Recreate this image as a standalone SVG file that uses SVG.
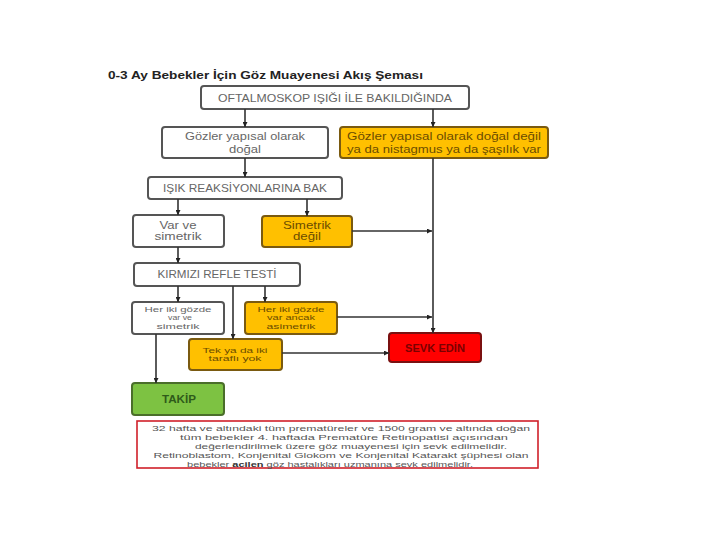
<svg xmlns="http://www.w3.org/2000/svg" width="720" height="540" viewBox="0 0 720 540">
<defs>
<marker id="ah" viewBox="0 0 10 10" refX="10" refY="5" markerWidth="5" markerHeight="5" orient="auto" markerUnits="userSpaceOnUse">
<path d="M0,0 L10,5 L0,10 z" fill="#222"/>
</marker>
<style>
.t{font-family:"Liberation Sans","Noto Sans",Arial,sans-serif;text-anchor:middle}
.w rect{fill:#fff;stroke:#555;stroke-width:2}
.o rect{fill:#FFC000;stroke:#7a5a10;stroke-width:2}
.w text{fill:#666;font-size:10.5px}
.o text{fill:#6b4c00;font-size:10.5px}
.w text.s,.o text.s{font-size:7.4px}
.c line{stroke:#333;stroke-width:1.6;marker-end:url(#ah)}
</style>
</defs>
<rect width="720" height="540" fill="#fff"/>
<text class="t" x="108" y="79" textLength="315" lengthAdjust="spacingAndGlyphs" style="text-anchor:start;font-size:11.5px;font-weight:bold;fill:#222">0-3 Ay Bebekler İçin Göz Muayenesi Akış Şeması</text>

<g id="n1" class="w"><rect x="201" y="86" width="268" height="23" rx="3"/><text class="t" x="335" y="101.5" textLength="234" lengthAdjust="spacingAndGlyphs">OFTALMOSKOP IŞIĞI İLE BAKILDIĞINDA</text></g>
<g id="n2" class="w"><rect x="162" y="127" width="166" height="31" rx="3"/><text class="t" x="245" y="139.5" textLength="120" lengthAdjust="spacingAndGlyphs">Gözler yapısal olarak</text><text class="t" x="245" y="153" textLength="32" lengthAdjust="spacingAndGlyphs">doğal</text></g>
<g id="n3" class="o"><rect x="340" y="127" width="208" height="31" rx="3"/><text class="t" x="444" y="139.5" textLength="194" lengthAdjust="spacingAndGlyphs">Gözler yapısal olarak doğal değil</text><text class="t" x="444" y="153" textLength="194" lengthAdjust="spacingAndGlyphs">ya da nistagmus ya da şaşılık var</text></g>
<g id="n4" class="w"><rect x="148" y="177" width="194" height="22" rx="3"/><text class="t" x="245" y="191.5" textLength="164" lengthAdjust="spacingAndGlyphs">IŞIK REAKSİYONLARINA BAK</text></g>
<g id="n5" class="w"><rect x="133" y="215" width="91" height="32" rx="3"/><text class="t" x="178" y="229" textLength="37" lengthAdjust="spacingAndGlyphs">Var ve</text><text class="t" x="178" y="240" textLength="47" lengthAdjust="spacingAndGlyphs">simetrik</text></g>
<g id="n6" class="o"><rect x="262" y="216" width="90" height="31" rx="3"/><text class="t" x="307" y="229" textLength="48" lengthAdjust="spacingAndGlyphs">Simetrik</text><text class="t" x="307" y="240" textLength="28" lengthAdjust="spacingAndGlyphs">değil</text></g>
<g id="n7" class="w"><rect x="134" y="263" width="166" height="23" rx="3"/><text class="t" x="217" y="278" textLength="119" lengthAdjust="spacingAndGlyphs">KIRMIZI REFLE TESTİ</text></g>
<g id="n8" class="w"><rect x="132" y="302" width="92" height="32" rx="3"/><text class="t s" x="178" y="311.5" textLength="67" lengthAdjust="spacingAndGlyphs">Her iki gözde</text><text class="t s" x="180" y="320" textLength="24" lengthAdjust="spacingAndGlyphs">var ve</text><text class="t s" x="178" y="328.5" textLength="43" lengthAdjust="spacingAndGlyphs">simetrik</text></g>
<g id="n9" class="o"><rect x="245" y="302" width="92" height="32" rx="3"/><text class="t s" x="291" y="311.5" textLength="67" lengthAdjust="spacingAndGlyphs">Her iki gözde</text><text class="t s" x="291" y="320" textLength="48" lengthAdjust="spacingAndGlyphs">var ancak</text><text class="t s" x="291" y="328.5" textLength="49" lengthAdjust="spacingAndGlyphs">asimetrik</text></g>
<g id="n10" class="o"><rect x="189" y="339" width="93" height="31" rx="3"/><text class="t s" x="235" y="352.5" textLength="65" lengthAdjust="spacingAndGlyphs">Tek ya da iki</text><text class="t s" x="235" y="361" textLength="53" lengthAdjust="spacingAndGlyphs">taraflı yok</text></g>
<g id="n11"><rect x="389" y="333" width="92" height="29" rx="3" fill="#FF0000" stroke="#7a1010" stroke-width="2"/><text class="t" x="435" y="351.5" textLength="60" lengthAdjust="spacingAndGlyphs" style="font-size:10.5px;fill:#7a0000;font-weight:bold">SEVK EDİN</text></g>
<g id="n12"><rect x="132" y="383" width="92" height="32" rx="3" fill="#7DC242" stroke="#4a6e2a" stroke-width="2"/><text class="t" x="179" y="402.5" textLength="34" lengthAdjust="spacingAndGlyphs" style="font-size:10.5px;fill:#2f5a1a;font-weight:bold">TAKİP</text></g>
<g id="note"><rect x="137" y="421" width="401" height="47" fill="#fff" stroke="#d0202a" stroke-width="1.6"/>
<g class="t" style="font-size:7.8px;fill:#555">
<text x="341" y="431" textLength="378" lengthAdjust="spacingAndGlyphs">32 hafta ve altındaki tüm prematüreler ve 1500 gram ve altında doğan</text>
<text x="344" y="440" textLength="328" lengthAdjust="spacingAndGlyphs">tüm bebekler 4. haftada Prematüre Retinopatisi açısından</text>
<text x="351" y="449" textLength="312" lengthAdjust="spacingAndGlyphs">değerlendirilmek üzere göz muayenesi için sevk edilmelidir.</text>
<text x="341" y="458" textLength="375" lengthAdjust="spacingAndGlyphs">Retinoblastom, Konjenital Glokom ve Konjenital Katarakt şüphesi olan</text>
<text x="330" y="467" textLength="286" lengthAdjust="spacingAndGlyphs">bebekler <tspan style="font-weight:bold;fill:#333">acilen</tspan> göz hastalıkları uzmanına sevk edilmelidir.</text>
</g></g>

<g id="connectors" class="c">
<line x1="245" y1="109" x2="245" y2="127"/>
<line x1="433" y1="109" x2="433" y2="127"/>
<line x1="245" y1="158" x2="245" y2="177"/>
<line x1="178" y1="199" x2="178" y2="215"/>
<line x1="307" y1="199" x2="307" y2="216"/>
<line x1="352" y1="231" x2="432" y2="231"/>
<line x1="433" y1="158" x2="433" y2="333"/>
<line x1="178" y1="247" x2="178" y2="263"/>
<line x1="178" y1="286" x2="178" y2="302"/>
<line x1="233" y1="286" x2="233" y2="339"/>
<line x1="265" y1="286" x2="265" y2="302"/>
<line x1="337" y1="317" x2="432" y2="317"/>
<line x1="282" y1="353" x2="389" y2="353"/>
<line x1="156" y1="334" x2="156" y2="383"/>
</g>
</svg>
